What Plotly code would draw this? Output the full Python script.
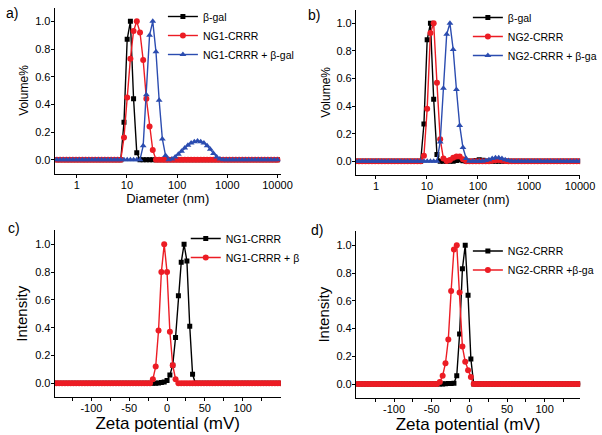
import plotly.graph_objects as go

# ---------------- data ----------------
DIAM_NM = [0.4, 0.4632, 0.5365, 0.6213, 0.7195, 0.8332, 0.9649, 1.117, 1.294, 1.499,
           1.736, 2.01, 2.328, 2.696, 3.122, 3.615, 4.187, 4.849, 5.615, 6.503,
           7.531, 8.721, 10.1, 11.7, 13.54, 15.69, 18.17, 21.04, 24.36, 28.21,
           32.67, 37.84, 43.82, 50.75, 58.77, 68.06, 78.82, 91.28, 105.7, 122.4,
           141.8, 164.2, 190.1, 220.2, 255, 295.3, 342, 396.1, 458.7, 531.2,
           615.1, 712.4, 825, 955.4, 1106, 1281, 1484, 1718, 1990, 2305,
           2669, 3091, 3580, 4145, 4801, 5560, 6439, 7456, 8635, 10000]

A_BGAL = [0, 0, 0, 0, 0, 0, 0, 0, 0, 0,
          0, 0, 0, 0, 0, 0, 0, 0, 0, 0,
          0, 0.27, 0.87, 1.0, 0.44, 0.05, 0, 0, 0, 0,
          0, 0, 0, 0, 0, 0, 0, 0, 0, 0,
          0, 0, 0, 0, 0, 0, 0, 0, 0, 0,
          0, 0, 0, 0, 0, 0, 0, 0, 0, 0,
          0, 0, 0, 0, 0, 0, 0, 0, 0, 0]
A_NG1 = [0, 0, 0, 0, 0, 0, 0, 0, 0, 0,
         0, 0, 0, 0, 0, 0, 0, 0, 0, 0,
         0, 0.16, 0.45, 0.73, 0.93, 1.0, 0.92, 0.72, 0.44, 0.24,
         0.07, 0, 0, 0, 0, 0, 0, 0, 0, 0,
         0, 0, 0, 0, 0, 0, 0, 0, 0, 0,
         0, 0, 0, 0, 0, 0, 0, 0, 0, 0,
         0, 0, 0, 0, 0, 0, 0, 0, 0, 0]
A_MIX = [0, 0, 0, 0, 0, 0, 0, 0, 0, 0,
         0, 0, 0, 0, 0, 0, 0, 0, 0, 0,
         0, 0, 0, 0, 0, 0, 0, 0.10, 0.47, 0.90,
         1.0, 0.78, 0.43, 0.15, 0.03, 0.0, 0.005, 0.02, 0.04, 0.06,
         0.085, 0.105, 0.12, 0.13, 0.135, 0.13, 0.12, 0.10, 0.075, 0.045,
         0.02, 0.005, 0, 0, 0, 0, 0, 0, 0, 0,
         0, 0, 0, 0, 0, 0, 0, 0, 0, 0]

B_BGAL = [0, 0, 0, 0, 0, 0, 0, 0, 0, 0,
          0, 0, 0, 0, 0, 0, 0, 0, 0, 0,
          0, 0.27, 0.88, 1.0, 0.45, 0.05, 0, 0, 0, 0,
          0, 0.005, 0.01, 0.004, 0, 0, 0, 0.005, 0.012, 0.008,
          0, 0, 0, 0, 0, 0, 0, 0, 0, 0,
          0, 0, 0, 0, 0, 0, 0, 0, 0, 0,
          0, 0, 0, 0, 0, 0, 0, 0, 0, 0]
B_NG2 = [0, 0, 0, 0, 0, 0, 0, 0, 0, 0,
         0, 0, 0, 0, 0, 0, 0, 0, 0, 0,
         0, 0.04, 0.38, 0.93, 1.0, 0.57, 0.16, 0.02, 0.003, 0.01,
         0.025, 0.035, 0.035, 0.015, 0, 0, 0, 0, 0, 0,
         0, 0, 0.004, 0.008, 0.01, 0.006, 0.002, 0, 0, 0,
         0, 0, 0, 0, 0, 0, 0, 0, 0, 0,
         0, 0, 0, 0, 0, 0, 0, 0, 0, 0]
B_MIX = [0, 0, 0, 0, 0, 0, 0, 0, 0, 0,
         0, 0, 0, 0, 0, 0, 0, 0, 0, 0,
         0, 0, 0, 0, 0, 0, 0.14, 0.53, 0.92, 1.0,
         0.81, 0.52, 0.26, 0.10, 0.02, 0, 0, 0, 0, 0,
         0.005, 0.012, 0.02, 0.025, 0.025, 0.02, 0.012, 0.005, 0, 0,
         0, 0, 0, 0, 0, 0, 0, 0, 0, 0,
         0, 0, 0, 0, 0, 0, 0, 0, 0, 0]

ZETA_C_MV = [-150, -146.25, -142.5, -138.75, -135, -131.25, -127.5, -123.75, -120, -116.25,
             -112.5, -108.75, -105, -101.25, -97.5, -93.75, -90, -86.25, -82.5, -78.75,
             -75, -71.25, -67.5, -63.75, -60, -56.25, -52.5, -48.75, -45, -41.25,
             -37.5, -33.75, -30, -26.25, -22.5, -18.75, -15, -11.25, -7.5, -3.75,
             0, 3.75, 7.5, 11.25, 15, 18.75, 22.5, 26.25, 30, 33.75,
             37.5, 41.25, 45, 48.75, 52.5, 56.25, 60, 63.75, 67.5, 71.25,
             75, 78.75, 82.5, 86.25, 90, 93.75, 97.5, 101.25, 105, 108.75,
             112.5, 116.25, 120, 123.75, 127.5, 131.25, 135, 138.75, 142.5, 146.25,
             150]
C_NG1 = [0, 0, 0, 0, 0, 0, 0, 0, 0, 0,
         0, 0, 0, 0, 0, 0, 0, 0, 0, 0,
         0, 0, 0, 0, 0, 0, 0, 0, 0, 0,
         0, 0, 0, 0, 0, 0, 0, 0.003, 0.005, 0.01,
         0.02, 0.06, 0.13, 0.33, 0.63, 0.87, 1.0, 0.88, 0.41, 0.065,
         0, 0, 0, 0, 0, 0, 0, 0, 0, 0,
         0, 0, 0, 0, 0, 0, 0, 0, 0, 0,
         0, 0, 0, 0, 0, 0, 0, 0, 0, 0,
         0]
C_MIX = [0, 0, 0, 0, 0, 0, 0, 0, 0, 0,
         0, 0, 0, 0, 0, 0, 0, 0, 0, 0,
         0, 0, 0, 0, 0, 0, 0, 0, 0, 0,
         0, 0, 0, 0, 0, 0.03, 0.12, 0.38, 0.80, 1.0,
         0.80, 0.37, 0.13, 0.03, 0, 0, 0, 0, 0, 0,
         0, 0, 0, 0, 0, 0, 0, 0, 0, 0,
         0, 0, 0, 0, 0, 0, 0, 0, 0, 0,
         0, 0, 0, 0, 0, 0, 0, 0, 0, 0,
         0]

ZETA_D_MV = [-148, -144.25, -140.5, -136.75, -133, -129.25, -125.5, -121.75, -118, -114.25,
             -110.5, -106.75, -103, -99.25, -95.5, -91.75, -88, -84.25, -80.5, -76.75,
             -73, -69.25, -65.5, -61.75, -58, -54.25, -50.5, -46.75, -43, -39.25,
             -35.5, -31.75, -28, -24.25, -20.5, -16.75, -13, -9.25, -5.5, -1.75,
             2, 5.75, 9.5, 13.25, 17, 20.75, 24.5, 28.25, 32, 35.75,
             39.5, 43.25, 47, 50.75, 54.5, 58.25, 62, 65.75, 69.5, 73.25,
             77, 80.75, 84.5, 88.25, 92, 95.75, 99.5, 103.25, 107, 110.75,
             114.5, 118.25, 122, 125.75, 129.5, 133.25, 137, 140.75, 144.5, 148.25]
D_NG2 = [0, 0, 0, 0, 0, 0, 0, 0, 0, 0,
         0, 0, 0, 0, 0, 0, 0, 0, 0, 0,
         0, 0, 0, 0, 0, 0, 0, 0, 0, 0,
         0, 0.002, 0.003, 0.004, 0.005, 0.06, 0.36, 0.83, 1.0, 0.64,
         0.18, 0, 0, 0, 0, 0, 0, 0, 0, 0,
         0, 0, 0, 0, 0, 0, 0, 0, 0, 0,
         0, 0, 0, 0, 0, 0, 0, 0, 0, 0,
         0, 0, 0, 0, 0, 0, 0, 0, 0, 0]
D_MIX = [0, 0, 0, 0, 0, 0, 0, 0, 0, 0,
         0, 0, 0, 0, 0, 0, 0, 0, 0, 0,
         0, 0, 0, 0, 0, 0, 0, 0, 0, 0.015,
         0.06, 0.15, 0.32, 0.67, 0.97, 1.0, 0.66, 0.27, 0.16, 0.10,
         0.05, 0, 0, 0, 0, 0, 0, 0, 0, 0,
         0, 0, 0, 0, 0, 0, 0, 0, 0, 0,
         0, 0, 0, 0, 0, 0, 0, 0, 0, 0,
         0, 0, 0, 0, 0, 0, 0, 0, 0, 0]

LOG_TICKS = [1, 10, 100, 1000, 10000]
LOG_TICK_TEXT = ["1", "10", "100", "1000", "10000"]
ZETA_TICKS = [-100, -50, 0, 50, 100]
ZETA_TICK_TEXT = ["-100", "-50", "0", "50", "100"]
ZETA_MINOR_TICKS = [-125, -75, -25, 25, 75, 125]
Y_TICKS = [0.0, 0.2, 0.4, 0.6, 0.8, 1.0]

# ---------------- style ----------------
FONT = "Liberation Sans, Arial, sans-serif"
BLACK = "#000000"
RED = "#ec1c24"
BLUE = "#2b4cb0"

fig = go.Figure()


def add(x, y, name, color, symbol, size, xa, ya, legend):
    fig.add_trace(go.Scatter(
        x=x, y=y, name=name, mode="lines+markers",
        line=dict(color=color, width=1.4),
        marker=dict(color=color, symbol=symbol, size=size, line=dict(width=0)),
        xaxis=xa, yaxis=ya, legend=legend))


add(DIAM_NM, A_BGAL, "β-gal", BLACK, "square", 5, "x", "y", "legend")
add(DIAM_NM, A_NG1, "NG1-CRRR", RED, "circle", 6, "x", "y", "legend")
add(DIAM_NM, A_MIX, "NG1-CRRR + β-gal", BLUE, "triangle-up", 6, "x", "y", "legend")

add(DIAM_NM, B_BGAL, "β-gal", BLACK, "square", 5, "x2", "y2", "legend2")
add(DIAM_NM, B_NG2, "NG2-CRRR", RED, "circle", 6, "x2", "y2", "legend2")
add(DIAM_NM, B_MIX, "NG2-CRRR + β-ga", BLUE, "triangle-up", 6, "x2", "y2", "legend2")

add(ZETA_C_MV, C_NG1, "NG1-CRRR", BLACK, "square", 5, "x3", "y3", "legend3")
add(ZETA_C_MV, C_MIX, "NG1-CRRR + β", RED, "circle", 6, "x3", "y3", "legend3")

add(ZETA_D_MV, D_NG2, "NG2-CRRR", BLACK, "square", 5, "x4", "y4", "legend4")
add(ZETA_D_MV, D_MIX, "NG2-CRRR +β-ga", RED, "circle", 6, "x4", "y4", "legend4")

W, H = 602, 435


def px(v):
    return v / W


def py(v):
    return (H - v) / H


axis_common = dict(showline=True, linecolor="black", linewidth=1, mirror=False,
                   showgrid=False, zeroline=False, ticks="outside", ticklen=3,
                   tickcolor="black", automargin=False, ticklabelstandoff=-2,
                   tickfont=dict(family=FONT, size=11, color="black"))

ytick = dict(tickvals=Y_TICKS, tickformat=".1f", range=[-0.1, 1.1])
zminor = dict(ticks="outside", ticklen=3, tickcolor="black", tickvals=ZETA_MINOR_TICKS)

layout = dict(
    template="none",
    width=W, height=H, margin=dict(l=0, r=0, t=0, b=0),
    paper_bgcolor="white", plot_bgcolor="white",
    font=dict(family=FONT, color="black"),
    xaxis=dict(axis_common, type="log", domain=[px(55), px(282.7)], range=[-0.442, 4.067],
               tickvals=LOG_TICKS, ticktext=LOG_TICK_TEXT, anchor="y",
               title=dict(text="Diameter (nm)", font=dict(size=13), standoff=1)),
    yaxis=dict(axis_common, **ytick, domain=[py(173.5), py(7.5)], anchor="x",
               title=dict(text="Volume%", font=dict(size=12), standoff=3)),
    xaxis2=dict(axis_common, type="log", domain=[px(358.3), px(584)], range=[-0.393, 4.003],
                tickvals=LOG_TICKS, ticktext=LOG_TICK_TEXT, anchor="y2",
                title=dict(text="Diameter (nm)", font=dict(size=13), standoff=1)),
    yaxis2=dict(axis_common, **ytick, domain=[py(175.1), py(9.5)], anchor="x2",
                title=dict(text="Volume%", font=dict(size=12), standoff=3)),
    xaxis3=dict(axis_common, domain=[px(55), px(282.7)], range=[-148.6, 150.4],
                tickvals=ZETA_TICKS, ticktext=ZETA_TICK_TEXT, anchor="y3", minor=zminor,
                title=dict(text="Zeta potential (mV)", font=dict(size=17), standoff=1)),
    yaxis3=dict(axis_common, **ytick, domain=[py(397.2), py(230.4)], anchor="x3",
                title=dict(text="Intensity", font=dict(size=15), standoff=3)),
    xaxis4=dict(axis_common, domain=[px(358.3), px(584)], range=[-150.7, 147.1],
                tickvals=ZETA_TICKS, ticktext=ZETA_TICK_TEXT, anchor="y4", minor=zminor,
                title=dict(text="Zeta potential (mV)", font=dict(size=17), standoff=1)),
    yaxis4=dict(axis_common, **ytick, domain=[py(397.9), py(231.4)], anchor="x4",
                title=dict(text="Intensity", font=dict(size=15), standoff=3)),
)

leg_common = dict(bgcolor="rgba(0,0,0,0)", borderwidth=0, xanchor="left", yanchor="top",
                  font=dict(family=FONT, size=10.5, color="black"), tracegroupgap=0)
layout["legend"] = dict(leg_common, x=px(164), y=py(2))
layout["legend2"] = dict(leg_common, x=px(471), y=py(3))
layout["legend3"] = dict(leg_common, x=px(187), y=py(224))
layout["legend4"] = dict(leg_common, x=px(471), y=py(236.5))

fig.update_layout(**layout)

PANEL_LABELS = ["a)", "b)", "c)", "d)"]
LABEL_POS = [(12, 13), (316, 15), (14, 228), (319, 230)]
for lab, (lx, ly) in zip(PANEL_LABELS, LABEL_POS):
    fig.add_annotation(text=lab, x=px(lx), y=py(ly), xref="paper", yref="paper",
                       showarrow=False, font=dict(family=FONT, size=14, color="black"),
                       xanchor="center", yanchor="middle")

# the page body otherwise adds an 8px margin around the figure
fig.write_html("out.html", config={"displayModeBar": False},
               post_script="document.body.style.margin='0';document.body.style.overflow='hidden';")
